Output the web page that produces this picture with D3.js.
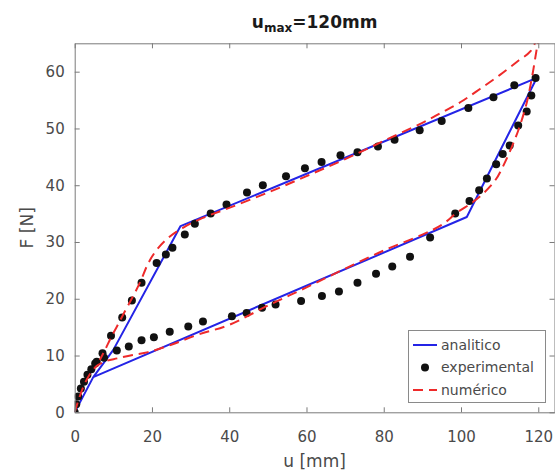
<!DOCTYPE html>
<html>
<head>
<meta charset="utf-8">
<script src="https://cdn.jsdelivr.net/npm/d3@7"></script>
<style>
	body { margin: 0; background: #fff; }
	svg { display: block; }
</style>
</head>
<body>
<div id="svg_goes_here"></div>
<script>
//tick values
var x_ticks = [0, 20, 40, 60, 80, 100, 120];
var y_ticks = [0, 10, 20, 30, 40, 50, 60];

//analitico (blue line)
var analitico_u = [0, 4.8, 101.5, 119.6, 27.4, 10, 4.8];
var analitico_F = [0, 6.2, 34.4, 58.9, 32.8, 11, 6.2];

//experimental (black dots), loading then unloading
var experimental_u = [0, 0.4, 0.9, 1.6, 2.4, 3.3, 4.3, 5.3, 7.6, 10.9, 14, 17.3, 20.5, 24.6, 29.4, 33.2, 40.7, 44.5, 48.5, 52, 58.6, 64, 68.4, 73.2, 78, 82.2, 86.8, 92, 98.5, 102.2, 104.7, 106.7, 109.1, 110.8, 112.6, 114.8, 117, 118.2, 119.3,
	113.8, 108.4, 101.9, 95, 89.3, 82.8, 78.5, 73.2, 68.8, 63.9, 59.6, 54.7, 48.7, 44.6, 39.3, 35.2, 31.1, 28.5, 25.3, 23.6, 21.2, 17.3, 14.8, 12.3, 9.4, 7.2, 5.7];
var experimental_F = [0, 1.4, 2.8, 4.2, 5.4, 6.6, 7.6, 8.6, 9.6, 10.9, 11.6, 12.7, 13.2, 14.2, 15.1, 16, 16.9, 17.5, 18.4, 19, 19.6, 20.5, 21.3, 22.8, 24.4, 25.7, 27.4, 30.8, 35, 37.2, 39.1, 41.2, 43.7, 45.5, 47, 50.5, 53, 55.8, 58.9,
	57.6, 55.5, 53.6, 51.3, 49.7, 48, 46.8, 45.8, 45.3, 44.1, 43, 41.6, 40, 38.7, 36.6, 35, 33.2, 31.3, 29, 27.8, 26.3, 22.8, 19.7, 16.7, 13.5, 10.4, 8.9];

//numerico (red dashed), loading then unloading
var numerico_u = [0, 1, 2, 3, 4, 5, 6, 8, 11, 15, 19, 25, 32, 40, 50, 60, 70, 80, 90, 95, 99, 103, 106, 109, 111, 113, 115, 117, 118.5, 119.6, 120.4,
	118, 115, 110, 105, 100, 95, 90, 80, 70, 60, 50, 40, 33, 28, 24, 21, 19, 17, 15, 13, 11, 9.5, 8, 6.5];
var numerico_F = [0, 2.2, 4.1, 5.6, 6.8, 7.7, 8.3, 9, 9.5, 10.1, 10.6, 11.9, 13.7, 15.4, 18.8, 22, 25.3, 28.5, 31.3, 33, 35.2, 37, 38.7, 41, 43.5, 46.5, 50, 54.5, 59.5, 64, 67,
	63.6, 62, 59.4, 57, 54.7, 52.8, 51, 47.8, 44.6, 41.6, 38.7, 36, 34.2, 32.5, 30.6, 28.4, 26.2, 23, 20.3, 17.8, 15.2, 13.3, 11.2, 9.2];

var legend_labels = ['analitico', 'experimental', 'numérico'];

var settings = {
	width: 555,
	height: 473,
	left: 74.7,
	right: 554.5,
	top: 43.3,
	bottom: 412.3,
	blue: '#2424e6',
	red: '#ee2a2a',
	axis_colour: '#7a7a7a',
	text_colour: '#4a4a4a',
	font: '"DejaVu Sans", sans-serif'
}

var x = d3.scaleLinear().domain([0, 124.2]).range([settings.left, settings.right]);
var y = d3.scaleLinear().domain([0, 65]).range([settings.bottom, settings.top]);

var svg = d3.select("#svg_goes_here")
	.append("svg")
	.attr('width', settings.width)
	.attr('height', settings.height)
	.style('font-family', settings.font);

svg.append('defs')
	.append('clipPath')
	.attr('id', 'plot_clip')
	.append('rect')
	.attr('x', settings.left)
	.attr('y', settings.top)
	.attr('width', settings.right - settings.left)
	.attr('height', settings.bottom - settings.top);

//zip two arrays into points
function make_points(us, fs){
	return us.map(function(u, i){ return [u, fs[i]]; });
}

var line = d3.line()
	.x(function(d){ return x(d[0]); })
	.y(function(d){ return y(d[1]); });

var plot = svg.append('g').attr('clip-path', 'url(#plot_clip)');

plot.append('path')
	.datum(make_points(analitico_u, analitico_F))
	.attr('d', line)
	.attr('fill', 'none')
	.attr('stroke', settings.blue)
	.attr('stroke-width', 2)
	.attr('stroke-linejoin', 'round');

plot.selectAll('.dot')
	.data(make_points(experimental_u, experimental_F))
	.enter()
	.append('circle')
	.attr('class', 'dot')
	.attr('cx', function(d){ return x(d[0]); })
	.attr('cy', function(d){ return y(d[1]); })
	.attr('r', 4)
	.attr('fill', '#111');

plot.append('path')
	.datum(make_points(numerico_u, numerico_F))
	.attr('d', d3.line().curve(d3.curveCatmullRom).x(line.x()).y(line.y()))
	.attr('fill', 'none')
	.attr('stroke', settings.red)
	.attr('stroke-width', 2)
	.attr('stroke-dasharray', '10,6');

//axes on all four sides, ticks pointing inward
var axes = [
	{ axis: d3.axisBottom(x).tickValues(x_ticks), pos: 'translate(0,' + settings.bottom + ')', labels: true, pad: 19 },
	{ axis: d3.axisTop(x).tickValues(x_ticks), pos: 'translate(0,' + settings.top + ')', labels: false, pad: 10 },
	{ axis: d3.axisLeft(y).tickValues(y_ticks), pos: 'translate(' + settings.left + ',0)', labels: true, pad: 10 },
	{ axis: d3.axisRight(y).tickValues(y_ticks), pos: 'translate(' + settings.right + ',0)', labels: false, pad: 10 }
];
axes.forEach(function(a){
	var g = svg.append('g')
		.attr('transform', a.pos)
		.call(a.axis.tickSize(-5).tickPadding(a.pad).tickSizeOuter(0));
	g.select('.domain').attr('stroke', settings.axis_colour);
	g.selectAll('.tick line').attr('stroke', settings.axis_colour);
	g.selectAll('.tick text')
		.attr('fill', settings.text_colour)
		.style('font-size', '15px')
		.style('font-family', settings.font);
	if (!a.labels) g.selectAll('.tick text').remove();
});

//title
var title = svg.append('text')
	.attr('x', (settings.left + settings.right) / 2)
	.attr('y', 28)
	.attr('text-anchor', 'middle')
	.attr('fill', '#1a1a1a')
	.style('font-size', '17px')
	.style('font-weight', 'bold');
title.append('tspan').text('u');
title.append('tspan').attr('dy', 4).style('font-size', '12px').text('max');
title.append('tspan').attr('dy', -4).text('=120mm');

//axis labels
svg.append('text')
	.attr('x', (settings.left + settings.right) / 2)
	.attr('y', 467)
	.attr('text-anchor', 'middle')
	.attr('fill', settings.text_colour)
	.style('font-size', '17px')
	.text('u [mm]');

svg.append('text')
	.attr('transform', 'translate(33,' + ((settings.top + settings.bottom) / 2) + ') rotate(-90)')
	.attr('text-anchor', 'middle')
	.attr('fill', settings.text_colour)
	.style('font-size', '17px')
	.text('F [N]');

//legend
var legend = svg.append('g');
legend.append('rect')
	.attr('x', 408.5)
	.attr('y', 330.5)
	.attr('width', 137)
	.attr('height', 72)
	.attr('fill', '#fff')
	.attr('stroke', '#8a8a8a');

var legend_y = [345, 367.5, 390];
legend_labels.forEach(function(label, i){
	var ly = legend_y[i];
	if (i == 1){
		legend.append('circle').attr('cx', 425).attr('cy', ly).attr('r', 4).attr('fill', '#111');
	} else {
		legend.append('line')
			.attr('x1', 413).attr('x2', 437)
			.attr('y1', ly).attr('y2', ly)
			.attr('stroke', i == 0 ? settings.blue : settings.red)
			.attr('stroke-width', 2)
			.attr('stroke-dasharray', i == 2 ? '10,6' : null);
	}
	legend.append('text')
		.attr('x', 441)
		.attr('y', ly)
		.attr('dy', '0.35em')
		.attr('fill', settings.text_colour)
		.style('font-size', '14px')
		.text(label);
});
</script>
</body>
</html>
